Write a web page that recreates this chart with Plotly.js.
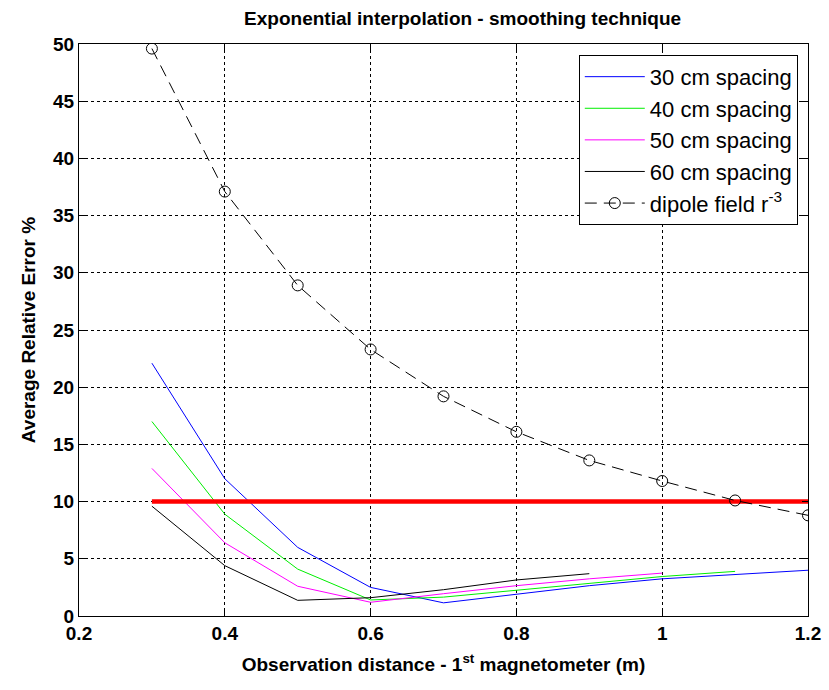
<!DOCTYPE html>
<html>
<head>
<meta charset="utf-8">
<script src="https://cdn.plot.ly/plotly-3.0.1.min.js"></script>
<style>html,body{margin:0;padding:0;background:#fff;}#chart{width:829px;height:690px;}</style>
</head>
<body>
<div id="chart"></div>
<script>
const distance = [0.3, 0.4, 0.5, 0.6, 0.7, 0.8, 0.9, 1.0, 1.1, 1.2];
const spacing30 = [22.1, 12.0, 6.0, 2.5, 1.15, 1.9, 2.65, 3.25, 3.65, 4.0];
const spacing40 = [17.0, 8.9, 4.1, 1.4, 1.65, 2.25, 2.9, 3.45, 3.9];
const spacing50 = [12.9, 6.4, 2.6, 1.2, 1.95, 2.65, 3.25, 3.75];
const spacing60 = [9.6, 4.4, 1.37, 1.6, 2.3, 3.15, 3.7];
const dipole = [49.6, 37.1, 28.9, 23.3, 19.2, 16.1, 13.6, 11.8, 10.1, 8.8];
const thresholdX = [0.3, 1.2];
const thresholdY = [10, 10];
const seriesNames = ['30 cm spacing', '40 cm spacing', '50 cm spacing', '60 cm spacing', 'dipole field r<sup>-3</sup>'];

const lineSeries = [spacing30, spacing40, spacing50, spacing60];
const colors = ['#0000ff', '#00ee00', '#ff00ff', '#000000'];
const traces = lineSeries.map((ys, i) => ({
  x: distance.slice(0, ys.length), y: ys, type: 'scatter', mode: 'lines',
  name: seriesNames[i], line: {color: colors[i], width: 1}
}));
traces.push({x: thresholdX, y: thresholdY, type: 'scatter', mode: 'lines',
  showlegend: false, line: {color: '#ff0000', width: 4.5}, hoverinfo: 'skip'});
traces.push({x: distance, y: dipole, type: 'scatter', mode: 'lines+markers',
  name: seriesNames[4], line: {color: '#000000', width: 1, dash: '12px,7px'},
  marker: {symbol: 'circle-open', size: 11, color: '#000000', line: {width: 1, color: '#000000'}}});

const tickFont = {family: 'Liberation Sans, Arial, sans-serif', size: 19, color: '#000', weight: 'bold'};
const axisCommon = {
  showline: true, linecolor: '#000', linewidth: 1, mirror: 'ticks',
  ticks: 'inside', ticklen: 6, tickcolor: '#000',
  showgrid: true, gridcolor: '#000', gridwidth: 1, griddash: '3px,3px',
  zeroline: false, tickfont: tickFont
};
const layout = {
  width: 829, height: 690,
  margin: {l: 79, r: 21, t: 44, b: 74},
  paper_bgcolor: '#fff', plot_bgcolor: '#fff',
  title: {text: 'Exponential interpolation - smoothing technique', x: 0.558, xanchor: 'center', y: 0.973, yanchor: 'middle',
    font: {family: 'Liberation Sans Narrow, Arial Narrow, Liberation Sans, sans-serif', size: 19, color: '#000', weight: 'bold'}},
  xaxis: Object.assign({}, axisCommon, {range: [0.2, 1.2], tickvals: [0.2, 0.4, 0.6, 0.8, 1, 1.2], ticktext: ['0.2','0.4','0.6','0.8','1','1.2'],
    title: {text: 'Observation distance - 1<sup>st</sup> magnetometer (m)', standoff: 14,
      font: {family: 'Liberation Sans Narrow, Arial Narrow, Liberation Sans, sans-serif', size: 19, color: '#000', weight: 'bold'}}}),
  yaxis: Object.assign({}, axisCommon, {range: [0, 50], tickvals: [0,5,10,15,20,25,30,35,40,45,50],
    title: {text: 'Average Relative Error %', standoff: 12,
      font: {family: 'Liberation Sans, Arial, sans-serif', size: 19, color: '#000', weight: 'bold'}}}),
  legend: {x: 0.986, xanchor: 'right', y: 0.981, yanchor: 'top', bgcolor: '#fff', bordercolor: '#000', borderwidth: 1,
    font: {family: 'Liberation Sans, Arial, sans-serif', size: 22, color: '#000'}, tracegroupgap: 0, itemwidth: 60},
  showlegend: true
};
Plotly.newPlot('chart', traces, layout, {displayModeBar: false, staticPlot: true});
</script>
</body>
</html>
